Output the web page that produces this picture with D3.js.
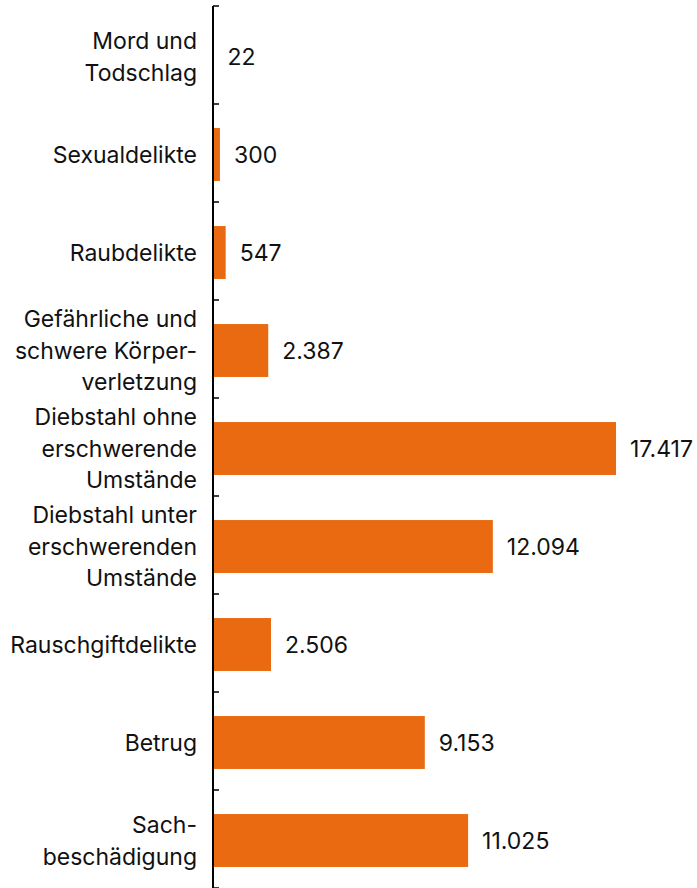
<!DOCTYPE html>
<html><head><meta charset="utf-8">
<script src="https://cdn.jsdelivr.net/npm/d3@7"></script>
<style>
html,body{margin:0;padding:0;background:#fff;}
svg{display:block;font-family:Inter,"Liberation Sans",Arial,sans-serif;}
</style></head>
<body><svg id="c" width="697" height="888"></svg>
<script>
const categories = [
  ["Mord und","Todschlag"],
  ["Sexualdelikte"],
  ["Raubdelikte"],
  ["Gefährliche und","schwere Körper-","verletzung"],
  ["Diebstahl ohne","erschwerende","Umstände"],
  ["Diebstahl unter","erschwerenden","Umstände"],
  ["Rauschgiftdelikte"],
  ["Betrug"],
  ["Sach-","beschädigung"]
];
const values = [22,300,547,2387,17417,12094,2506,9153,11025];

const svg = d3.select("#c");
const W = 697, H = 888;
const x0 = 213;
const ids = d3.range(values.length);
const x = d3.scaleLinear().domain([0,20000]).range([x0, x0+462.8]);
const y = d3.scaleBand().domain(ids).range([7.5, 889.5]).paddingInner(0.46).paddingOuter(0.23);
const loc = d3.formatLocale({decimal:",", thousands:".", grouping:[3], currency:["","€"]});
const fmt = loc.format(",d");
const color = "#e96a10";
const fs = 23, lh = 31.5;

// bars
svg.selectAll("rect.bar").data(ids).join("rect")
  .attr("class","bar")
  .attr("x", x(0))
  .attr("y", d => y(d))
  .attr("width", d => x(values[d]) - x(0))
  .attr("height", y.bandwidth())
  .attr("fill", color);

// value labels
svg.selectAll("text.val").data(ids).join("text")
  .attr("class","val")
  .attr("x", d => x(values[d]) + 14)
  .attr("y", d => y(d) + y.bandwidth()/2)
  .attr("dy","0.36em")
  .attr("font-size", fs)
  .attr("fill","#111")
  .text(d => fmt(values[d]));

// category labels
const step = y.step();
const g = svg.selectAll("text.cat").data(ids).join("text")
  .attr("class","cat")
  .attr("text-anchor","end")
  .attr("font-size", fs)
  .attr("fill","#111");
g.each(function(d){
  const lines = categories[d];
  const cy = y(d) + y.bandwidth()/2;
  const t = d3.select(this);
  lines.forEach((ln,i)=>{
    t.append("tspan")
      .attr("x", 197)
      .attr("y", cy + (i - (lines.length-1)/2)*lh)
      .attr("dy","0.36em")
      .text(ln);
  });
});

// axis line and ticks at band boundaries
const bounds = d3.range(values.length+1).map(i => 6 + i*step);
svg.append("line").attr("x1",x0).attr("x2",x0).attr("y1",6).attr("y2",H)
  .attr("stroke","#000").attr("stroke-width",2);
svg.selectAll("line.tick").data(bounds).join("line")
  .attr("class","tick")
  .attr("x1",x0).attr("x2",x0+6)
  .attr("y1",d=>d).attr("y2",d=>d)
  .attr("stroke","#000").attr("stroke-width",1.5);
</script></body></html>
